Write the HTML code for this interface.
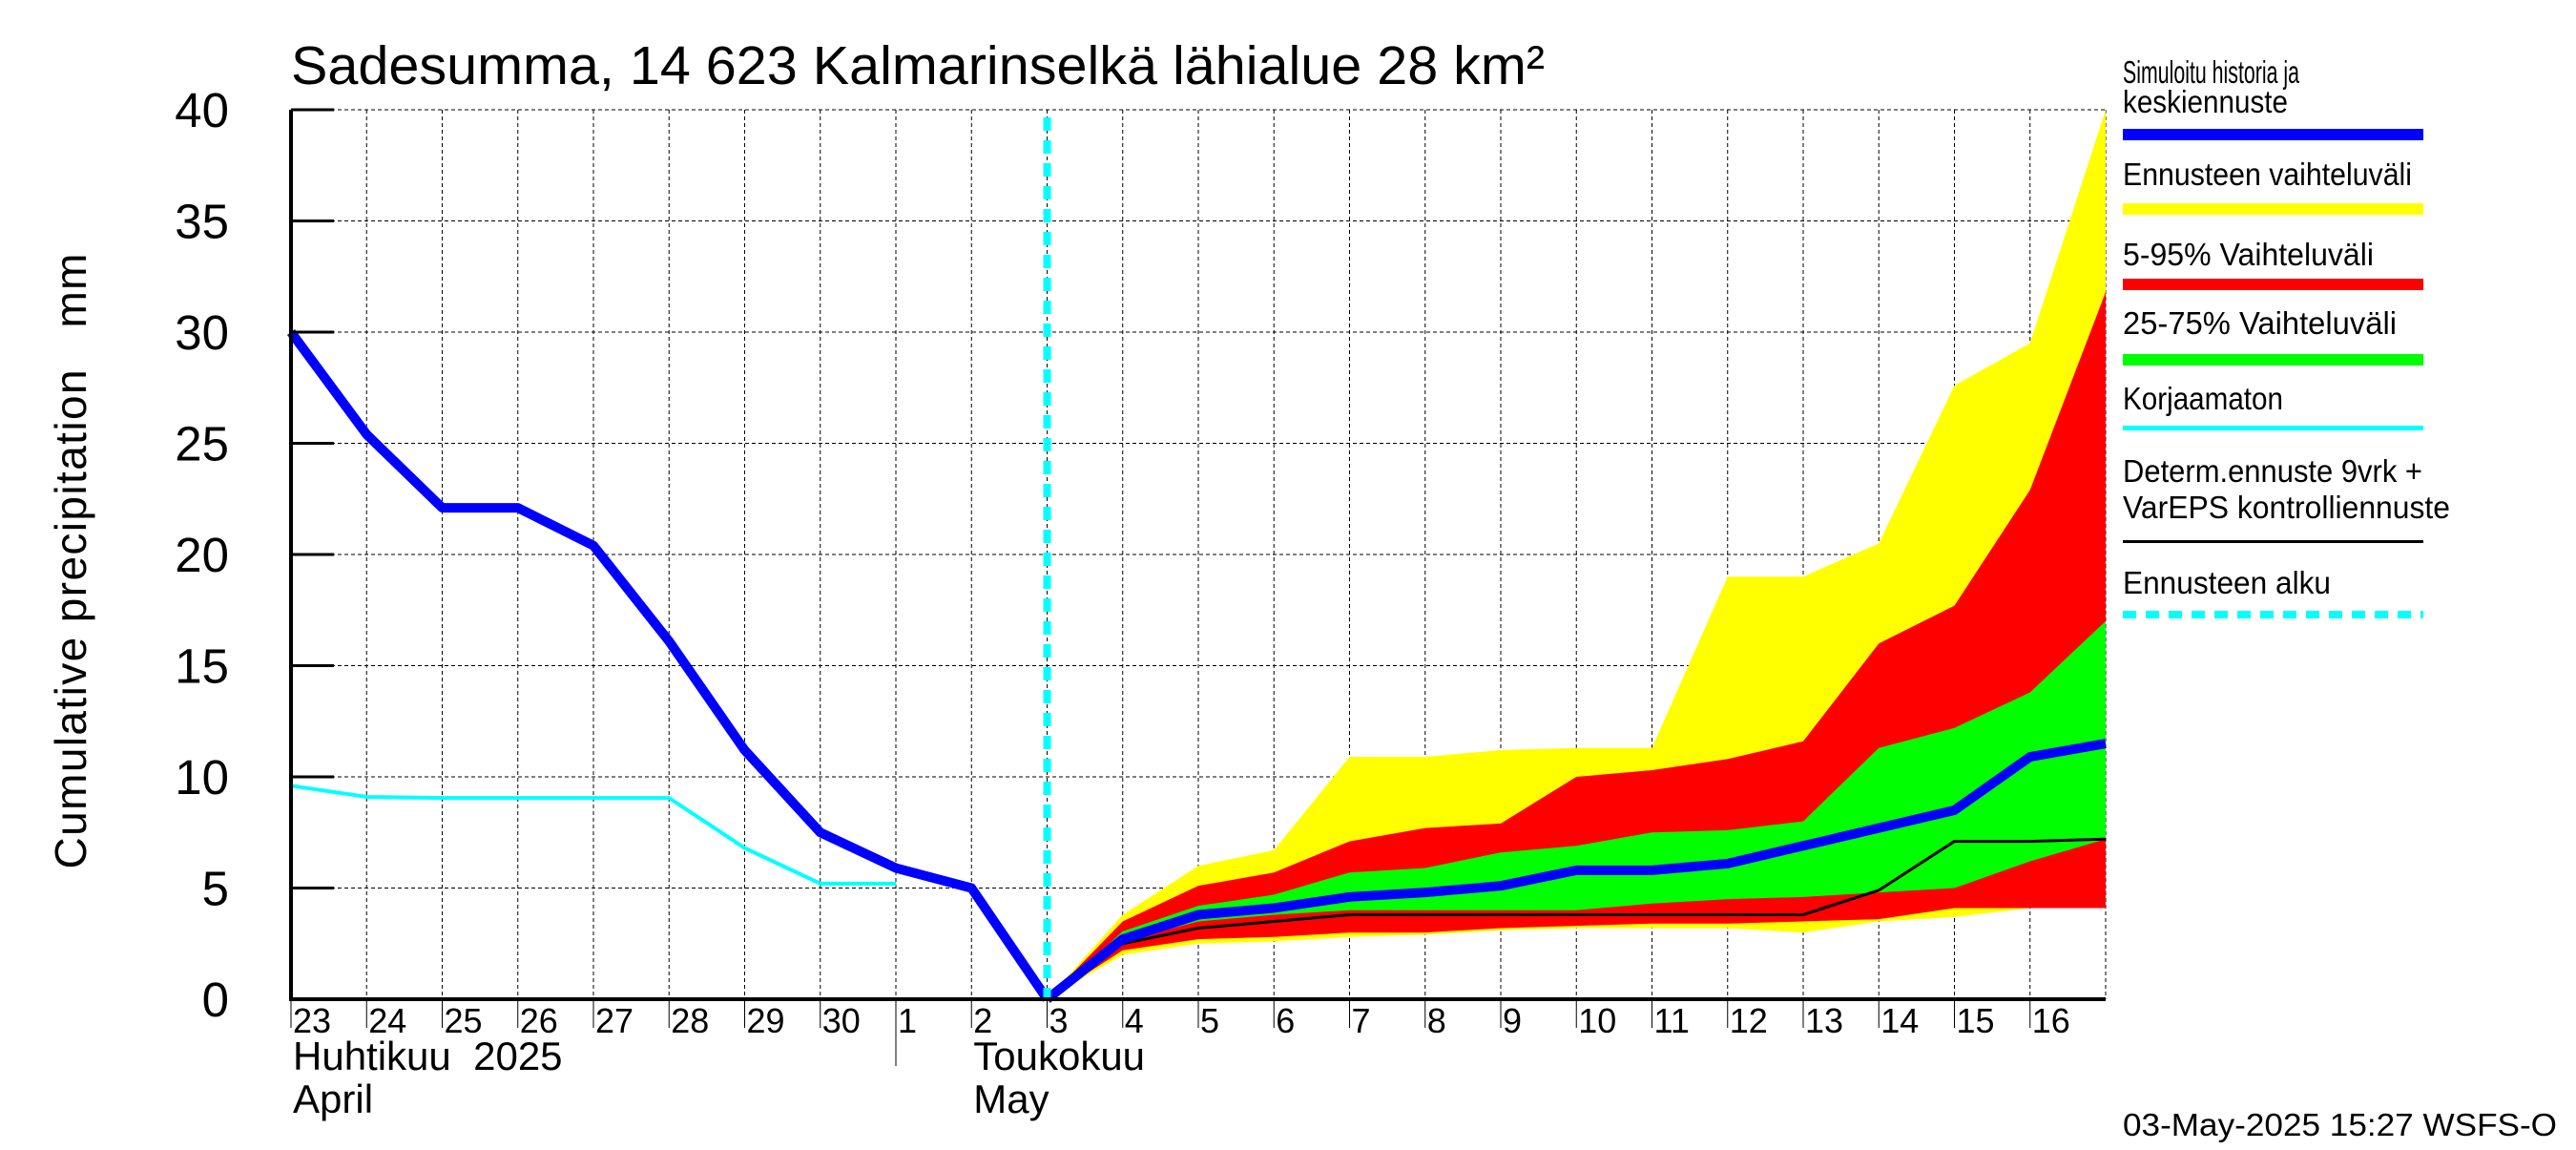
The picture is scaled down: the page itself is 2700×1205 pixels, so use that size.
<!DOCTYPE html>
<html><head><meta charset="utf-8"><style>
html,body{margin:0;padding:0;background:#fff;}
svg text{font-family:"Liberation Sans",sans-serif;fill:#000;white-space:pre;}
</style></head><body>
<svg id="chart" width="2700" height="1200" viewBox="0 0 2700 1200" xmlns="http://www.w3.org/2000/svg">
<g id="grid"></g>
<g id="bands"></g>
<g id="lines"></g>
<g id="axes"></g>
<text x="305" y="88" font-size="57" textLength="1314" lengthAdjust="spacingAndGlyphs">Sadesumma, 14 623 Kalmarinselkä lähialue 28 km²</text>
<text transform="translate(90,588) rotate(-90)" text-anchor="middle" font-size="46" textLength="645">Cumulative precipitation   mm</text>
<g id="legend">
<text x="2225" y="87" font-size="33" textLength="185" lengthAdjust="spacingAndGlyphs">Simuloitu historia ja</text>
<text x="2225" y="118" font-size="33" textLength="173" lengthAdjust="spacingAndGlyphs">keskiennuste</text>
<rect x="2225" y="135" width="315" height="12" fill="#0000ff"/>
<text x="2225" y="194" font-size="33" textLength="303" lengthAdjust="spacingAndGlyphs">Ennusteen vaihteluväli</text>
<rect x="2225" y="213" width="315" height="12" fill="#ffff00"/>
<text x="2225" y="278" font-size="33" textLength="263" lengthAdjust="spacingAndGlyphs">5-95% Vaihteluväli</text>
<rect x="2225" y="292" width="315" height="12" fill="#ff0000"/>
<text x="2225" y="350" font-size="33" textLength="287" lengthAdjust="spacingAndGlyphs">25-75% Vaihteluväli</text>
<rect x="2225" y="371" width="315" height="12" fill="#00ff00"/>
<text x="2225" y="429" font-size="33" textLength="168" lengthAdjust="spacingAndGlyphs">Korjaamaton</text>
<rect x="2225" y="446" width="315" height="5" fill="#00ffff"/>
<text x="2225" y="505" font-size="33" textLength="314" lengthAdjust="spacingAndGlyphs">Determ.ennuste 9vrk +</text>
<text x="2225" y="543" font-size="33" textLength="343" lengthAdjust="spacingAndGlyphs">VarEPS kontrolliennuste</text>
<rect x="2225" y="566" width="315" height="3" fill="#000"/>
<text x="2225" y="622" font-size="33" textLength="218" lengthAdjust="spacingAndGlyphs">Ennusteen alku</text>
<line x1="2225" y1="644" x2="2540" y2="644" stroke="#00ffff" stroke-width="8" stroke-dasharray="14,10"/>
</g>
<text x="2225" y="1190" font-size="33" textLength="455" lengthAdjust="spacingAndGlyphs">03-May-2025 15:27 WSFS-O</text>
</svg>
<script>
const dayLabels=["23","24","25","26","27","28","29","30","1","2","3","4","5","6","7","8","9","10","11","12","13","14","15","16"];
const yTicks=[0,5,10,15,20,25,30,35,40];
const histX=[0,1,2,3,4,5,6,7,8,9,10];
const histVals=[30,25.4,22.1,22.1,20.4,16.1,11.2,7.5,5.9,5.0,0];
const cyanX=[0,1,2,3,4,5,6,7,8];
const cyanVals=[9.6,9.1,9.05,9.05,9.05,9.05,6.8,5.2,5.2];
const fcX=[10,11,12,13,14,15,16,17,18,19,20,21,22,23,24];
const fcMean=[0,2.7,3.8,4.1,4.6,4.8,5.1,5.8,5.8,6.1,6.9,7.7,8.5,10.9,11.5];
const yelHi=[0,3.8,6.0,6.7,10.9,10.9,11.2,11.3,11.3,19.0,19.0,20.5,27.6,29.5,40];
const yelLo=[0,2.0,2.5,2.6,2.8,2.9,3.1,3.2,3.2,3.2,3.0,3.5,3.7,4.1,4.1];
const redHi=[0,3.5,5.1,5.7,7.1,7.7,7.9,10.0,10.3,10.8,11.6,16.0,17.7,22.9,31.8];
const redLo=[0,2.2,2.7,2.8,3.0,3.0,3.2,3.3,3.4,3.4,3.5,3.6,4.1,4.1,4.1];
const grnHi=[0,3.05,4.2,4.7,5.7,5.9,6.6,6.9,7.5,7.6,8.0,11.3,12.2,13.8,17.0];
const grnLo=[0,2.6,3.5,3.8,4.0,4.0,4.0,4.0,4.3,4.5,4.6,4.8,5.0,6.2,7.2];
const detVals=[0,2.5,3.2,3.5,3.8,3.8,3.8,3.8,3.8,3.8,3.8,4.9,7.1,7.1,7.2];
const startIdx=10;

const NS="http://www.w3.org/2000/svg";
const X0=305,DX=79.25,Y0=1047,YT=115,YMAX=40;
const xs=i=>X0+i*DX;
const ys=v=>Y0-(v/YMAX)*(Y0-YT);
function mk(parent,tag,attrs){const e=document.createElementNS(NS,tag);for(const k in attrs)e.setAttribute(k,attrs[k]);parent.appendChild(e);return e;}
const grid=document.getElementById('grid'),bands=document.getElementById('bands'),lines=document.getElementById('lines'),axes=document.getElementById('axes');
for(let i=1;i<=dayLabels.length;i++){const g=mk(grid,'line',{x1:xs(i),y1:YT,x2:xs(i),y2:Y0,stroke:'#000','stroke-width':1,'stroke-dasharray':'4,3'});

}
yTicks.forEach(v=>{if(v===0)return;const g=mk(grid,'line',{x1:X0,y1:ys(v),x2:xs(24),y2:ys(v),stroke:'#000','stroke-width':1,'stroke-dasharray':'4,3'});

});
function band(hi,lo,color,name){let d='M'+fcX.map((x,i)=>xs(x)+','+ys(hi[i])).join(' L');for(let i=fcX.length-1;i>=0;i--)d+=' L'+xs(fcX[i])+','+ys(lo[i]);d+='Z';
const p=mk(bands,'path',{d:d,fill:color});

}
band(yelHi,yelLo,'#ffff00','range-band');
band(redHi,redLo,'#ff0000','band-5-95');
band(grnHi,grnLo,'#00ff00','band-25-75');
function line(xa,va,color,w,name){const p=mk(lines,'polyline',{points:xa.map((x,i)=>xs(x)+','+ys(va[i])).join(' '),fill:'none',stroke:color,'stroke-width':w,'stroke-linejoin':'round'});

}
line(cyanX,cyanVals,'#00ffff',4,'uncorrected-line');
line(fcX,detVals,'#000',3,'deterministic-line');
line(histX,histVals,'#0000ff',10,'simulated-history-line');
line(fcX,fcMean,'#0000ff',10,'forecast-mean-line');
const fs=mk(lines,'line',{x1:xs(startIdx),y1:YT+8,x2:xs(startIdx),y2:Y0,stroke:'#00ffff','stroke-width':8,'stroke-dasharray':'14,10'});


const la=mk(axes,'line',{x1:X0,y1:YT,x2:X0,y2:Y0+2,stroke:'#000','stroke-width':4});


const ba=mk(axes,'line',{x1:X0-2,y1:Y0,x2:xs(24),y2:Y0,stroke:'#000','stroke-width':4});


yTicks.forEach(v=>{const t=mk(axes,'line',{x1:X0,y1:ys(v),x2:X0+45,y2:ys(v),stroke:'#000','stroke-width':3});


const l=mk(axes,'text',{x:240,y:ys(v)+18,'text-anchor':'end','font-size':51});l.textContent=String(v);

});
dayLabels.forEach((d,i)=>{const t=mk(axes,'line',{x1:xs(i),y1:Y0,x2:xs(i),y2:Y0+30,stroke:'#000','stroke-width':1});


const l=mk(axes,'text',{x:xs(i)+2,y:1082,'font-size':36});l.textContent=d;

});
const sep=mk(axes,'line',{x1:xs(8),y1:Y0,x2:xs(8),y2:1117,stroke:'#000','stroke-width':1});


[["Huhtikuu  2025",xs(0),1121],["April",xs(0),1166],["Toukokuu",xs(9),1121],["May",xs(9),1166]].forEach(m=>{const l=mk(axes,'text',{x:m[1]+2,y:m[2],'font-size':42});l.textContent=m[0];

});
</script>
</body></html>
